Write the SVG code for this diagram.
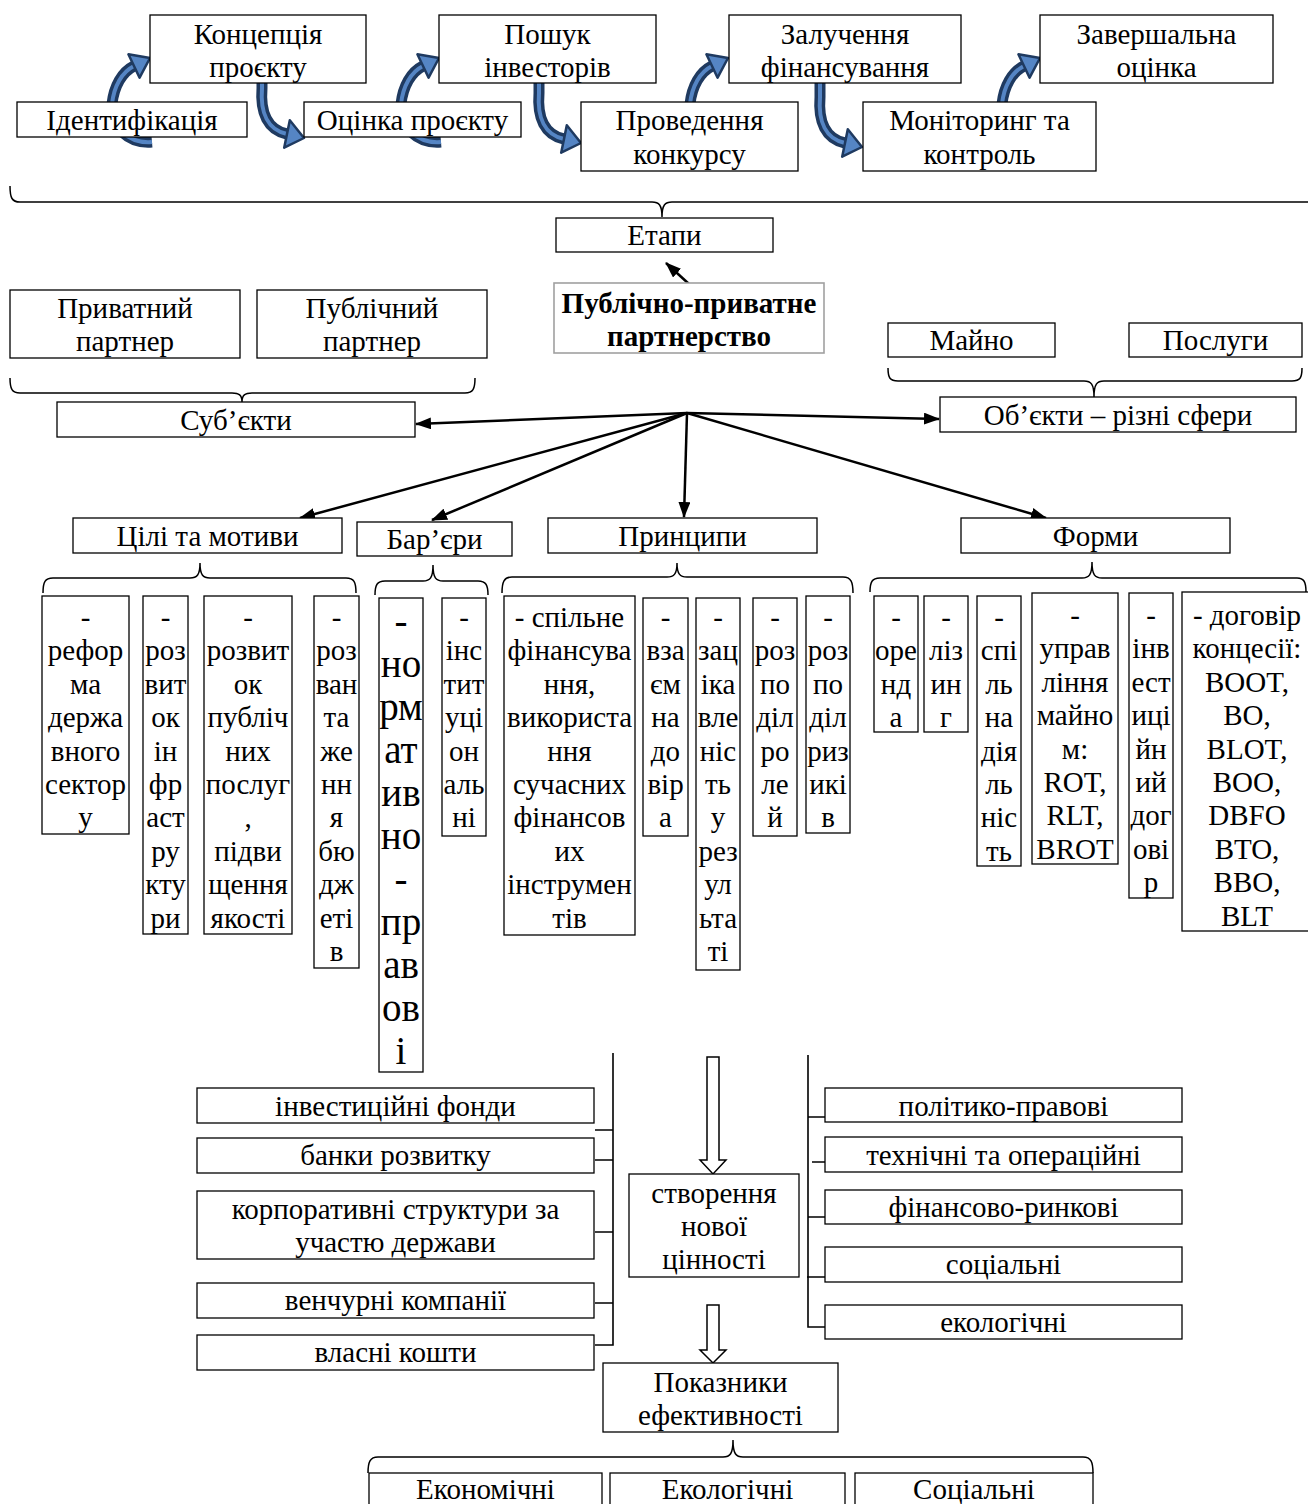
<svg xmlns="http://www.w3.org/2000/svg" xmlns:xlink="http://www.w3.org/1999/xlink" width="1308" height="1504" viewBox="0 0 1308 1504">
<style>
.b{fill:#fff;stroke:#000;stroke-width:1.3}
.g{fill:#fff;stroke:#a0a0a0;stroke-width:1.6}
text{font-family:"Liberation Serif","Times New Roman",serif;font-size:29px;text-anchor:middle;fill:#000}
.big{font-size:39px}
.bold{font-weight:bold}
.br{fill:none;stroke:#000;stroke-width:1.5}
.ln{fill:none;stroke:#000;stroke-width:2.5}
.thin{fill:none;stroke:#000;stroke-width:1.6}
.hol{fill:#fff;stroke:#000;stroke-width:1.5}
.bandO{fill:none;stroke:#1f3a60;stroke-width:11}
.bandI{fill:none;stroke:#5585c4;stroke-width:4}
.head{fill:#5585c4;stroke:#1f3a60;stroke-width:2.5;stroke-linejoin:round}
</style>
<defs>
<marker id="ah" viewBox="0 0 16 12" refX="15" refY="6" markerWidth="16" markerHeight="12" orient="auto" markerUnits="userSpaceOnUse"><path d="M0 0 L16 6 L0 12 z" fill="#000"/></marker>
<g id="upArrow">
<path class="bandO" d="M 2 84 C -22 86, -40 68, -38 46 C -36 28, -28 14, -16 8"/>
<path class="bandI" d="M 2 84 C -22 86, -40 68, -38 46 C -36 28, -28 14, -16 8"/>
<polygon class="head" points="0,0 -10.4,19.7 -21.6,-3.7"/>
</g>
<g id="downArrow">
<path class="bandO" d="M -42 -65 L -42 -50 C -44 -25, -36 -8, -17 -4"/>
<path class="bandI" d="M -42 -65 L -42 -50 C -44 -25, -36 -8, -17 -4"/>
<polygon class="head" points="0,0 -19.8,9.7 -14.2,-17.7"/>
</g>
</defs>
<rect width="1308" height="1504" fill="#fff"/>

<g id="connectors">
<use xlink:href="#upArrow" href="#upArrow" transform="translate(150,58)"/>
<use xlink:href="#upArrow" href="#upArrow" transform="translate(439,58)"/>
<use xlink:href="#upArrow" href="#upArrow" transform="translate(728,58)"/>
<use xlink:href="#upArrow" href="#upArrow" transform="translate(1040,58)"/>
<use xlink:href="#downArrow" href="#downArrow" transform="translate(304,138)"/>
<use xlink:href="#downArrow" href="#downArrow" transform="translate(581,143)"/>
<use xlink:href="#downArrow" href="#downArrow" transform="translate(862,147)"/>

<path class="br" d="M 10 186 C 10 198 12 202 20 202 L 652 202 C 659 202 662 205 662 217 C 662 205 665 202 672 202 L 1310 202"/>
<path class="br" d="M 10 378 C 10 389 12 393 20 393 L 232 393 C 239 393 242 395 242 402 C 242 395 245 393 252 393 L 465 393 C 473 393 475 389 475 378"/>
<path class="br" d="M 888 368 C 888 378 890 381 898 381 L 1084 381 C 1091 381 1094 384 1094 397 C 1094 384 1097 381 1104 381 L 1292 381 C 1300 381 1302 378 1302 368"/>
<path class="br" d="M 43 593 C 43 582 45 578 53 578 L 190 578 C 197 578 200 575 200 563 C 200 575 203 578 210 578 L 346 578 C 354 578 356 582 356 593"/>
<path class="br" d="M 375 595 C 375 585 377 581 385 581 L 423 581 C 430 581 433 578 433 565 C 433 578 436 581 443 581 L 478 581 C 486 581 488 585 488 595"/>
<path class="br" d="M 502 593 C 502 582 504 577 512 577 L 667 577 C 674 577 677 574 677 563 C 677 574 680 577 687 577 L 843 577 C 851 577 853 582 853 593"/>
<path class="br" d="M 870 592 C 870 582 872 578 880 578 L 1082 578 C 1089 578 1092 575 1092 562 C 1092 575 1095 578 1102 578 L 1297 578 C 1304 578 1306 582 1306 592"/>
<path class="br" d="M 368 1473 C 368 1462 370 1457 378 1457 L 723 1457 C 730 1457 733 1454 733 1440 C 733 1454 736 1457 743 1457 L 1083 1457 C 1091 1457 1093 1462 1093 1473"/>

<line class="ln" x1="689" y1="284" x2="666" y2="263" marker-end="url(#ah)"/>
<line class="ln" x1="687" y1="413" x2="416" y2="424" marker-end="url(#ah)"/>
<line class="ln" x1="687" y1="413" x2="939" y2="419" marker-end="url(#ah)"/>
<line class="ln" x1="687" y1="413" x2="300" y2="518" marker-end="url(#ah)"/>
<line class="ln" x1="687" y1="413" x2="432" y2="520" marker-end="url(#ah)"/>
<line class="ln" x1="687" y1="413" x2="684" y2="517" marker-end="url(#ah)"/>
<line class="ln" x1="687" y1="413" x2="1046" y2="518" marker-end="url(#ah)"/>

<path class="thin" d="M 613 1053 L 613 1345 L 595 1345 M 595 1130 H 613 M 595 1160 H 613 M 595 1232 H 613 M 595 1303 H 613"/>
<path class="thin" d="M 808 1055 L 808 1327 L 825 1327 M 808 1117 H 825 M 812 1162 H 825 M 808 1217 H 825 M 807 1277 H 825"/>
<path class="hol" d="M 707 1057 L 719 1057 L 719 1160 L 726 1160 L 713 1174 L 700 1160 L 707 1160 Z"/>
<path class="hol" d="M 707 1305 L 719 1305 L 719 1350 L 726 1350 L 713 1363 L 700 1350 L 707 1350 Z"/>
</g>

<g id="n-koncepciya"><rect class="b" x="150" y="15" width="216" height="68"/><text x="258" y="44">Концепція</text><text x="258" y="77">проєкту</text></g>
<g id="n-poshuk"><rect class="b" x="439" y="15" width="217" height="68"/><text x="547.5" y="44">Пошук</text><text x="547.5" y="77">інвесторів</text></g>
<g id="n-zaluchennya"><rect class="b" x="729" y="15" width="232" height="68"/><text x="845" y="44">Залучення</text><text x="845" y="77">фінансування</text></g>
<g id="n-zavershalna"><rect class="b" x="1040" y="15" width="233" height="68"/><text x="1156.5" y="44">Завершальна</text><text x="1156.5" y="77">оцінка</text></g>
<g id="n-identyfikaciya"><rect class="b" x="17" y="102" width="230" height="35"/><text x="132" y="130">Ідентифікація</text></g>
<g id="n-ocinka"><rect class="b" x="304" y="102" width="217" height="35"/><text x="412.5" y="130">Оцінка проєкту</text></g>
<g id="n-provedennya"><rect class="b" x="581" y="102" width="217" height="69"/><text x="689.5" y="130">Проведення</text><text x="689.5" y="164">конкурсу</text></g>
<g id="n-monitoring"><rect class="b" x="863" y="102" width="233" height="69"/><text x="979.5" y="130">Моніторинг та</text><text x="979.5" y="164">контроль</text></g>

<g id="n-etapy"><rect class="b" x="556" y="218" width="217" height="34"/><text x="664.5" y="245">Етапи</text></g>
<g id="n-ppp"><rect class="g" x="554" y="283" width="270" height="70"/><text class="bold" x="689" y="313">Публічно-приватне</text><text class="bold" x="689" y="346">партнерство</text></g>
<g id="n-pryvatnyi"><rect class="b" x="10" y="290" width="230" height="68"/><text x="125" y="318">Приватний</text><text x="125" y="351">партнер</text></g>
<g id="n-publichnyi"><rect class="b" x="257" y="290" width="230" height="68"/><text x="372" y="318">Публічний</text><text x="372" y="351">партнер</text></g>
<g id="n-subjekty"><rect class="b" x="57" y="402" width="358" height="35"/><text x="236" y="430">Суб’єкти</text></g>
<g id="n-mayno"><rect class="b" x="888" y="323" width="167" height="34"/><text x="971.5" y="350">Майно</text></g>
<g id="n-poslugy"><rect class="b" x="1129" y="323" width="173" height="34"/><text x="1215.5" y="350">Послуги</text></g>
<g id="n-objekty"><rect class="b" x="940" y="397" width="356" height="35"/><text x="1118" y="425">Об’єкти – різні сфери</text></g>

<g id="n-cili"><rect class="b" x="73" y="518" width="269" height="35"/><text x="207.5" y="546">Цілі та мотиви</text></g>
<g id="n-barjery"><rect class="b" x="357" y="522" width="155" height="34"/><text x="434.5" y="549">Бар’єри</text></g>
<g id="n-pryncypy"><rect class="b" x="548" y="518" width="269" height="35"/><text x="682.5" y="546">Принципи</text></g>
<g id="n-formy"><rect class="b" x="961" y="518" width="269" height="35"/><text x="1095.5" y="546">Форми</text></g>

<g id="c1"><rect class="b" x="42" y="596" width="87" height="238"/><text x="85.5" y="627"><tspan x="85.5">-</tspan><tspan x="85.5" dy="33.4">рефор</tspan><tspan x="85.5" dy="33.4">ма</tspan><tspan x="85.5" dy="33.4">держа</tspan><tspan x="85.5" dy="33.4">вного</tspan><tspan x="85.5" dy="33.4">сектор</tspan><tspan x="85.5" dy="33.4">у</tspan></text></g>
<g id="c2"><rect class="b" x="143" y="596" width="45" height="338"/><text x="165.5" y="627"><tspan x="165.5">-</tspan><tspan x="165.5" dy="33.4">роз</tspan><tspan x="165.5" dy="33.4">вит</tspan><tspan x="165.5" dy="33.4">ок</tspan><tspan x="165.5" dy="33.4">ін</tspan><tspan x="165.5" dy="33.4">фр</tspan><tspan x="165.5" dy="33.4">аст</tspan><tspan x="165.5" dy="33.4">ру</tspan><tspan x="165.5" dy="33.4">кту</tspan><tspan x="165.5" dy="33.4">ри</tspan></text></g>
<g id="c3"><rect class="b" x="204" y="596" width="88" height="338"/><text x="248" y="627"><tspan x="248">-</tspan><tspan x="248" dy="33.4">розвит</tspan><tspan x="248" dy="33.4">ок</tspan><tspan x="248" dy="33.4">публіч</tspan><tspan x="248" dy="33.4">них</tspan><tspan x="248" dy="33.4">послуг</tspan><tspan x="248" dy="33.4">,</tspan><tspan x="248" dy="33.4">підви</tspan><tspan x="248" dy="33.4">щення</tspan><tspan x="248" dy="33.4">якості</tspan></text></g>
<g id="c4"><rect class="b" x="314" y="596" width="45" height="372"/><text x="336.5" y="627"><tspan x="336.5">-</tspan><tspan x="336.5" dy="33.4">роз</tspan><tspan x="336.5" dy="33.4">ван</tspan><tspan x="336.5" dy="33.4">та</tspan><tspan x="336.5" dy="33.4">же</tspan><tspan x="336.5" dy="33.4">нн</tspan><tspan x="336.5" dy="33.4">я</tspan><tspan x="336.5" dy="33.4">бю</tspan><tspan x="336.5" dy="33.4">дж</tspan><tspan x="336.5" dy="33.4">еті</tspan><tspan x="336.5" dy="33.4">в</tspan></text></g>
<g id="c5"><rect class="b" x="379" y="598" width="44" height="474"/><text class="big" x="401" y="634"><tspan x="401">-</tspan><tspan x="401" dy="43">но</tspan><tspan x="401" dy="43">рм</tspan><tspan x="401" dy="43">ат</tspan><tspan x="401" dy="43">ив</tspan><tspan x="401" dy="43">но</tspan><tspan x="401" dy="43">-</tspan><tspan x="401" dy="43">пр</tspan><tspan x="401" dy="43">ав</tspan><tspan x="401" dy="43">ов</tspan><tspan x="401" dy="43">і</tspan></text></g>
<g id="c6"><rect class="b" x="442" y="598" width="44" height="238"/><text x="464" y="627"><tspan x="464">-</tspan><tspan x="464" dy="33.4">інс</tspan><tspan x="464" dy="33.4">тит</tspan><tspan x="464" dy="33.4">уці</tspan><tspan x="464" dy="33.4">он</tspan><tspan x="464" dy="33.4">аль</tspan><tspan x="464" dy="33.4">ні</tspan></text></g>
<g id="c7"><rect class="b" x="504" y="596" width="131" height="339"/><text x="569.5" y="627"><tspan x="569.5">- спільне</tspan><tspan x="569.5" dy="33.4">фінансува</tspan><tspan x="569.5" dy="33.4">ння,</tspan><tspan x="569.5" dy="33.4">використа</tspan><tspan x="569.5" dy="33.4">ння</tspan><tspan x="569.5" dy="33.4">сучасних</tspan><tspan x="569.5" dy="33.4">фінансов</tspan><tspan x="569.5" dy="33.4">их</tspan><tspan x="569.5" dy="33.4">інструмен</tspan><tspan x="569.5" dy="33.4">тів</tspan></text></g>
<g id="c8"><rect class="b" x="643" y="598" width="45" height="238"/><text x="665.5" y="627"><tspan x="665.5">-</tspan><tspan x="665.5" dy="33.4">вза</tspan><tspan x="665.5" dy="33.4">єм</tspan><tspan x="665.5" dy="33.4">на</tspan><tspan x="665.5" dy="33.4">до</tspan><tspan x="665.5" dy="33.4">вір</tspan><tspan x="665.5" dy="33.4">а</tspan></text></g>
<g id="c9"><rect class="b" x="696" y="598" width="44" height="372"/><text x="718" y="627"><tspan x="718">-</tspan><tspan x="718" dy="33.4">зац</tspan><tspan x="718" dy="33.4">іка</tspan><tspan x="718" dy="33.4">вле</tspan><tspan x="718" dy="33.4">ніс</tspan><tspan x="718" dy="33.4">ть</tspan><tspan x="718" dy="33.4">у</tspan><tspan x="718" dy="33.4">рез</tspan><tspan x="718" dy="33.4">ул</tspan><tspan x="718" dy="33.4">ьта</tspan><tspan x="718" dy="33.4">ті</tspan></text></g>
<g id="c10"><rect class="b" x="753" y="598" width="44" height="238"/><text x="775" y="627"><tspan x="775">-</tspan><tspan x="775" dy="33.4">роз</tspan><tspan x="775" dy="33.4">по</tspan><tspan x="775" dy="33.4">діл</tspan><tspan x="775" dy="33.4">ро</tspan><tspan x="775" dy="33.4">ле</tspan><tspan x="775" dy="33.4">й</tspan></text></g>
<g id="c11"><rect class="b" x="806" y="596" width="44" height="237"/><text x="828" y="627"><tspan x="828">-</tspan><tspan x="828" dy="33.4">роз</tspan><tspan x="828" dy="33.4">по</tspan><tspan x="828" dy="33.4">діл</tspan><tspan x="828" dy="33.4">риз</tspan><tspan x="828" dy="33.4">икі</tspan><tspan x="828" dy="33.4">в</tspan></text></g>
<g id="c12"><rect class="b" x="874" y="596" width="44" height="136"/><text x="896" y="627"><tspan x="896">-</tspan><tspan x="896" dy="33.4">оре</tspan><tspan x="896" dy="33.4">нд</tspan><tspan x="896" dy="33.4">а</tspan></text></g>
<g id="c13"><rect class="b" x="924" y="596" width="44" height="136"/><text x="946" y="627"><tspan x="946">-</tspan><tspan x="946" dy="33.4">ліз</tspan><tspan x="946" dy="33.4">ин</tspan><tspan x="946" dy="33.4">г</tspan></text></g>
<g id="c14"><rect class="b" x="977" y="596" width="44" height="270"/><text x="999" y="627"><tspan x="999">-</tspan><tspan x="999" dy="33.4">спі</tspan><tspan x="999" dy="33.4">ль</tspan><tspan x="999" dy="33.4">на</tspan><tspan x="999" dy="33.4">дія</tspan><tspan x="999" dy="33.4">ль</tspan><tspan x="999" dy="33.4">ніс</tspan><tspan x="999" dy="33.4">ть</tspan></text></g>
<g id="c15"><rect class="b" x="1032" y="593" width="86" height="271"/><text x="1075" y="625"><tspan x="1075">-</tspan><tspan x="1075" dy="33.4">управ</tspan><tspan x="1075" dy="33.4">ління</tspan><tspan x="1075" dy="33.4">майно</tspan><tspan x="1075" dy="33.4">м:</tspan><tspan x="1075" dy="33.4">ROT,</tspan><tspan x="1075" dy="33.4">RLT,</tspan><tspan x="1075" dy="33.4">BROT</tspan></text></g>
<g id="c16"><rect class="b" x="1129" y="593" width="44" height="305"/><text x="1151" y="625"><tspan x="1151">-</tspan><tspan x="1151" dy="33.4">інв</tspan><tspan x="1151" dy="33.4">ест</tspan><tspan x="1151" dy="33.4">иці</tspan><tspan x="1151" dy="33.4">йн</tspan><tspan x="1151" dy="33.4">ий</tspan><tspan x="1151" dy="33.4">дог</tspan><tspan x="1151" dy="33.4">ові</tspan><tspan x="1151" dy="33.4">р</tspan></text></g>
<g id="c17"><rect class="b" x="1182" y="592" width="132" height="339"/><text x="1247" y="625"><tspan x="1247">- договір</tspan><tspan x="1247" dy="33.4">концесії:</tspan><tspan x="1247" dy="33.4">BOOT,</tspan><tspan x="1247" dy="33.4">BO,</tspan><tspan x="1247" dy="33.4">BLOT,</tspan><tspan x="1247" dy="33.4">BOO,</tspan><tspan x="1247" dy="33.4">DBFO</tspan><tspan x="1247" dy="33.4">BTO,</tspan><tspan x="1247" dy="33.4">BBO,</tspan><tspan x="1247" dy="33.4">BLT</tspan></text></g>

<g id="n-fondy"><rect class="b" x="197" y="1088" width="397" height="35"/><text x="395.5" y="1116">інвестиційні фонди</text></g>
<g id="n-banky"><rect class="b" x="197" y="1138" width="397" height="35"/><text x="395.5" y="1165">банки розвитку</text></g>
<g id="n-korporatyvni"><rect class="b" x="197" y="1191" width="397" height="68"/><text x="395.5" y="1219">корпоративні структури за</text><text x="395.5" y="1252">участю держави</text></g>
<g id="n-venchurni"><rect class="b" x="197" y="1283" width="397" height="35"/><text x="395.5" y="1310">венчурні компанії</text></g>
<g id="n-vlasni"><rect class="b" x="197" y="1335" width="397" height="35"/><text x="395.5" y="1362">власні кошти</text></g>

<g id="n-polityko"><rect class="b" x="825" y="1088" width="357" height="34"/><text x="1003.5" y="1116">політико-правові</text></g>
<g id="n-tekhnichni"><rect class="b" x="825" y="1137" width="357" height="35"/><text x="1003.5" y="1165">технічні та операційні</text></g>
<g id="n-finansovo"><rect class="b" x="825" y="1190" width="357" height="34"/><text x="1003.5" y="1217">фінансово-ринкові</text></g>
<g id="n-socialni"><rect class="b" x="825" y="1247" width="357" height="35"/><text x="1003.5" y="1274">соціальні</text></g>
<g id="n-ekologichni"><rect class="b" x="825" y="1305" width="357" height="34"/><text x="1003.5" y="1332">екологічні</text></g>

<g id="n-stvorennya"><rect class="b" x="629" y="1174" width="170" height="103"/><text x="714" y="1203">створення</text><text x="714" y="1236">нової</text><text x="714" y="1269">цінності</text></g>
<g id="n-pokaznyky"><rect class="b" x="603" y="1363" width="235" height="69"/><text x="720.5" y="1392">Показники</text><text x="720.5" y="1425">ефективності</text></g>
<g id="n-ekonomichni"><rect class="b" x="369" y="1473" width="233" height="40"/><text x="485.5" y="1499">Економічні</text></g>
<g id="n-ekologichni2"><rect class="b" x="610" y="1473" width="235" height="40"/><text x="727.5" y="1499">Екологічні</text></g>
<g id="n-socialni2"><rect class="b" x="855" y="1473" width="238" height="40"/><text x="974" y="1499">Соціальні</text></g>
</svg>
